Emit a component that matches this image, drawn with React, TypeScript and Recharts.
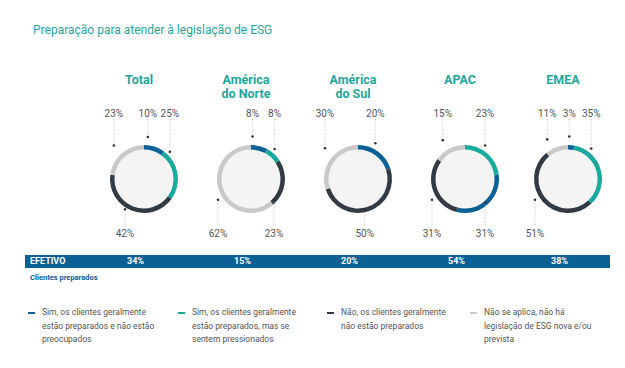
import { Cell, Pie, PieChart } from 'recharts'

const regions = ['Total', 'América\ndo Norte', 'América\ndo Sul', 'APAC', 'EMEA']
const semPreocupacao = [10, 8, 20, 31, 3]
const pressionados = [25, 8, 0, 23, 35]
const naoPreparados = [42, 23, 50, 31, 51]
const naoSeAplica = [23, 62, 30, 15, 11]
const tealFirst = [false, false, false, true, false]
const efetivo = [34, 15, 20, 54, 38]
const legendLabels = [
  'Sim, os clientes geralmente\nestão preparados e não estão\npreocupados',
  'Sim, os clientes geralmente\nestão preparados, mas se\nsentem pressionados',
  'Não, os clientes geralmente\nnão estão preparados',
  'Não se aplica, não há\nlegislação de ESG nova e/ou\nprevista',
]

const BLUE = '#0b6096'
const TEAL = '#1aa99d'
const DARK = '#323a45'
const LIGHT = '#c9c9c9'
const COLORS = [BLUE, TEAL, DARK, LIGHT]
const TITLE = '#1ea79b'

const W = 625
const H = 368
const CY = 174
const OUTER = 34
const DOT_R = OUTER + 4
const MAX_DX = 28
const GAP = 22
const centers = [139, 246, 353, 460, 563]
const legendX = [28, 178, 327, 470]
const RAD = Math.PI / 180

function slicesFor(i: number) {
  const blue = { name: 'blue', value: semPreocupacao[i], color: BLUE }
  const teal = { name: 'teal', value: pressionados[i], color: TEAL }
  const rest = [
    { name: 'dark', value: naoPreparados[i], color: DARK },
    { name: 'light', value: naoSeAplica[i], color: LIGHT },
  ]
  const first = tealFirst[i] ? [teal, blue] : [blue, teal]
  return [...first, ...rest].filter((s) => s.value > 0)
}

function onRing(cx: number, x: number, top: boolean) {
  const dy = Math.sqrt(Math.max(0, DOT_R * DOT_R - (x - cx) ** 2))
  return top ? CY - dy : CY + dy
}

// dot at the slice middle, kept near the top/bottom of the ring and spread apart on collisions
function labelLayout(i: number) {
  const slices = slicesFor(i)
  const total = slices.reduce((a, s) => a + s.value, 0)
  const cx = centers[i]
  let acc = 0
  const pts = slices.map((s) => {
    const a = ((acc + s.value / 2) / total) * 360 * RAD
    acc += s.value
    const top = Math.cos(a) > 0
    const x = cx + Math.max(-MAX_DX, Math.min(MAX_DX, DOT_R * Math.sin(a)))
    return { x, y: 0, top }
  })
  for (const side of [true, false]) {
    const group = pts.filter((p) => p.top === side).sort((a, b) => a.x - b.x)
    for (let pass = 0; pass < 3; pass++) {
      for (let j = 1; j < group.length; j++) {
        const gap = group[j].x - group[j - 1].x
        if (gap < GAP) {
          const shift = (GAP - gap) / 2
          group[j - 1].x -= shift
          group[j].x += shift
        }
      }
    }
  }
  pts.forEach((p) => (p.y = onRing(cx, p.x, p.top)))
  return pts
}

function makeLabel(i: number) {
  const pts = labelLayout(i)
  return (props: any) => {
    const { index, value } = props
    const { x, y, top } = pts[index]
    const ty = top ? 113 : 233
    return (
      <g>
        <line x1={x} x2={x} y1={top ? ty + 6 : y + 2} y2={top ? y - 2 : ty - 7} stroke="#aaa" strokeWidth={0.7} strokeDasharray="1 1.5" />
        <circle cx={x} cy={y} r={1.3} fill="#333" />
        <text x={x} y={ty} textAnchor="middle" dominantBaseline="central" fontSize={10} fill="#555" fontFamily="Roboto">
          {value}%
        </text>
      </g>
    )
  }
}

export default function App() {
  return (
    <div style={{ position: 'absolute', left: 0, top: 0, width: W, height: H, background: '#fff', fontFamily: 'Roboto, sans-serif' }}>
      <div style={{ position: 'absolute', left: 33, top: 22, fontSize: 12, lineHeight: '16px', color: TITLE }}>
        Preparação para atender à legislação de ESG
      </div>

      {regions.map((r, i) => (
        <div key={r} style={{ position: 'absolute', left: centers[i] - 60, top: 73, width: 120, textAlign: 'center', fontSize: 12.5, fontWeight: 700, lineHeight: '14px', color: TITLE, whiteSpace: 'pre-line' }}>
          {r}
        </div>
      ))}

      <div style={{ position: 'absolute', left: 0, top: 0 }}>
        <PieChart width={W} height={H}>
          {regions.map((r, i) => (
            <Pie key={'bg' + r} data={[{ value: 1 }]} dataKey="value" cx={centers[i]} cy={CY} innerRadius={0} outerRadius={30} fill="#f4f4f4" stroke="none" isAnimationActive={false} />
          ))}
          {regions.map((r, i) => {
            const slices = slicesFor(i)
            return (
              <Pie
                key={r}
                data={slices}
                dataKey="value"
                cx={centers[i]}
                cy={CY}
                innerRadius={29.5}
                outerRadius={OUTER}
                startAngle={90}
                endAngle={-270}
                stroke="none"
                isAnimationActive={false}
                label={makeLabel(i)}
                labelLine={false}
              >
                {slices.map((s) => (
                  <Cell key={s.name} fill={s.color} />
                ))}
              </Pie>
            )
          })}
        </PieChart>
      </div>

      <div style={{ position: 'absolute', left: 25, top: 255, width: 585, height: 13, background: BLUE, color: '#fff', fontSize: 9, fontWeight: 700, lineHeight: '13px' }}>
        <span style={{ position: 'absolute', left: 5 }}>EFETIVO</span>
        {efetivo.map((v, i) => (
          <span key={i} style={{ position: 'absolute', left: centers[i] - 25 - 12 }}>{v}%</span>
        ))}
      </div>
      <div style={{ position: 'absolute', left: 30, top: 273, fontSize: 7.5, fontWeight: 700, color: BLUE, lineHeight: '10px' }}>
        Clientes preparados
      </div>

      {legendLabels.map((l, i) => (
        <div key={i} style={{ position: 'absolute', left: legendX[i], top: 306 }}>
          <div style={{ position: 'absolute', left: 0, top: 5.5, width: 7, height: 2.5, background: COLORS[i] }} />
          <div style={{ position: 'absolute', left: 14, top: 0, width: 140, fontSize: 8.5, lineHeight: '13.5px', color: '#555', whiteSpace: 'pre-line' }}>
            {l}
          </div>
        </div>
      ))}
    </div>
  )
}
